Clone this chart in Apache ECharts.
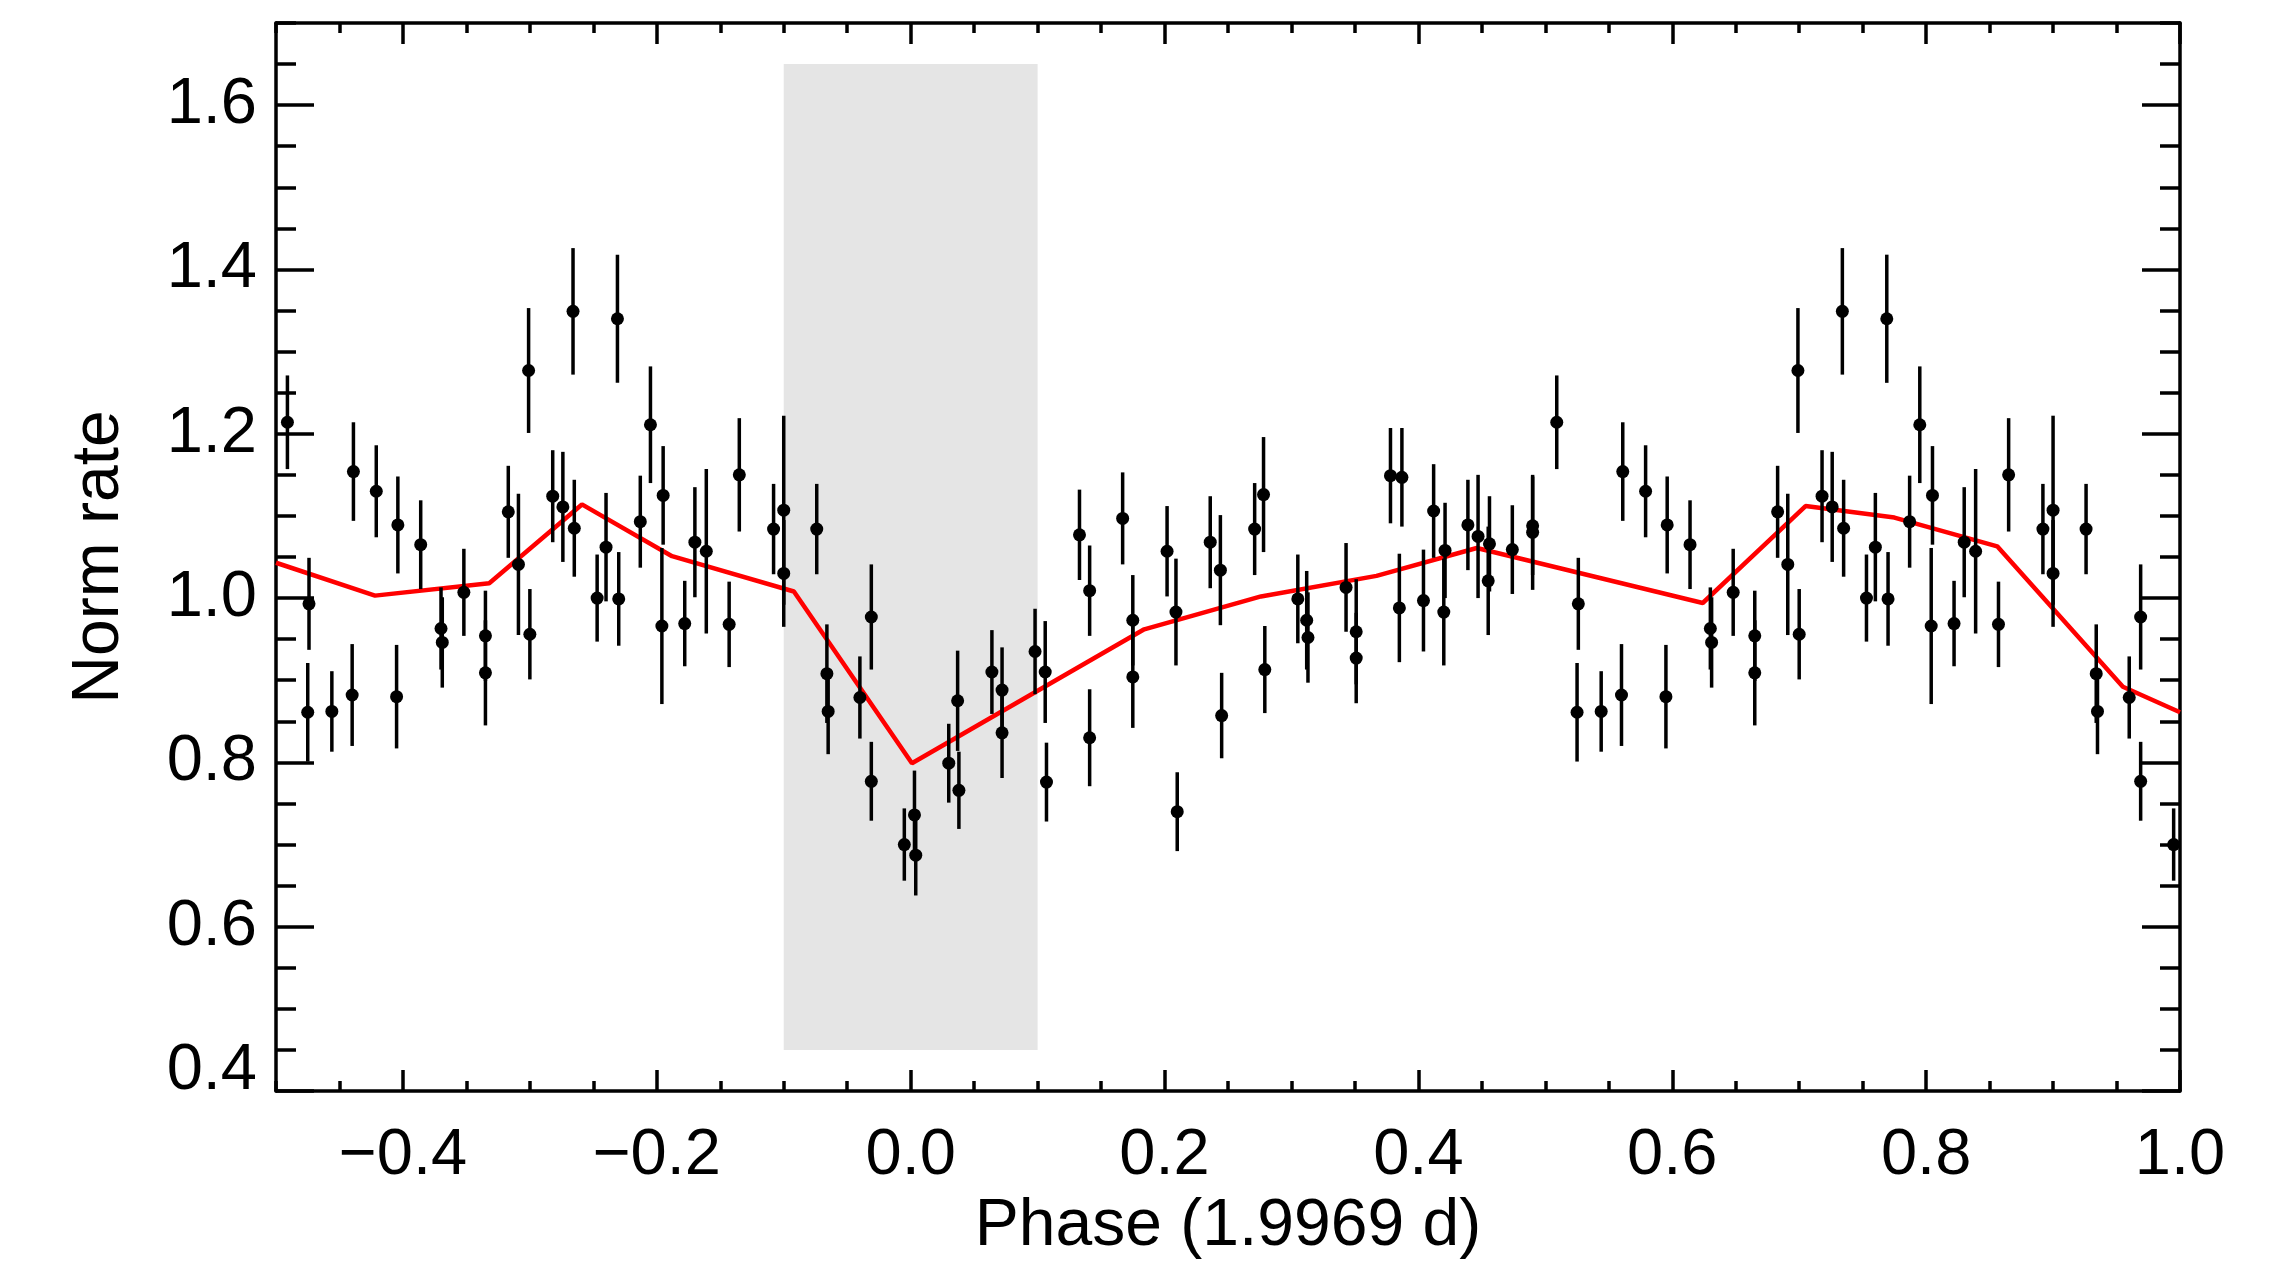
<!DOCTYPE html>
<html>
<head>
<meta charset="utf-8">
<title>Norm rate vs phase</title>
<script src="https://cdn.jsdelivr.net/npm/echarts@6/dist/echarts.min.js"></script>
<style>
  html, body { margin: 0; padding: 0; background: #fff; }
  #chart { width: 2292px; height: 1287px; }
</style>
</head>
<body>
<div id="chart"></div>
<script>
// folded light curve, one cycle (phase -0.5 .. 0.5); the -0.5..0 part is drawn again at +1
const phase = [
  -0.491, -0.474, -0.475, -0.456, -0.439, -0.440, -0.421, -0.404, -0.405, -0.386,
  -0.370, -0.369, -0.352, -0.335, -0.335, -0.317, -0.309, -0.301, -0.300, -0.282,
  -0.274, -0.266, -0.265, -0.247, -0.240, -0.231, -0.230, -0.213, -0.205, -0.195,
  -0.196, -0.178, -0.170, -0.161, -0.143, -0.135, -0.108, -0.100, -0.100, -0.074,
  -0.066, -0.065, -0.040, -0.031, -0.031, -0.005, 0.003, 0.004, 0.030, 0.037,
  0.038, 0.064, 0.072, 0.072, 0.098, 0.106, 0.107, 0.133, 0.141, 0.141,
  0.167, 0.175, 0.175, 0.202, 0.209, 0.210, 0.236, 0.244, 0.245, 0.271,
  0.278, 0.279, 0.305, 0.312, 0.313, 0.343, 0.351, 0.351, 0.378, 0.387,
  0.385, 0.404, 0.412, 0.421, 0.420, 0.439, 0.447, 0.456, 0.455, 0.474,
  0.490, 0.490
]
const rate = [
  1.214, 0.993, 0.861, 0.862, 1.154, 0.882, 1.130, 1.089, 0.880, 1.065,
  0.963, 0.946, 1.007, 0.954, 0.909, 1.105, 1.041, 1.277, 0.956, 1.124,
  1.111, 1.349, 1.085, 1.000, 1.062, 1.340, 0.999, 1.093, 1.211, 1.125,
  0.966, 0.969, 1.068, 1.057, 0.968, 1.150, 1.084, 1.107, 1.030, 1.084,
  0.908, 0.862, 0.879, 0.977, 0.777, 0.700, 0.736, 0.687, 0.799, 0.875,
  0.766, 0.910, 0.888, 0.836, 0.935, 0.910, 0.776, 1.077, 1.009, 0.830,
  1.097, 0.973, 0.904, 1.057, 0.983, 0.740, 1.068, 1.034, 0.857, 1.084,
  1.126, 0.913, 0.999, 0.973, 0.952, 1.013, 0.959, 0.927, 1.149, 1.147,
  0.988, 0.997, 1.106, 1.058, 0.983, 1.089, 1.075, 1.066, 1.021, 1.059,
  1.088, 1.080
]
const rateErr = [
  0.057, 0.056, 0.060, 0.049, 0.060, 0.062, 0.056, 0.059, 0.063, 0.054,
  0.050, 0.055, 0.053, 0.055, 0.064, 0.056, 0.086, 0.076, 0.055, 0.056,
  0.067, 0.077, 0.059, 0.053, 0.066, 0.078, 0.057, 0.056, 0.071, 0.060,
  0.095, 0.052, 0.067, 0.100, 0.052, 0.069, 0.055, 0.115, 0.065, 0.055,
  0.060, 0.052, 0.050, 0.064, 0.048, 0.044, 0.054, 0.049, 0.048, 0.061,
  0.047, 0.051, 0.052, 0.055, 0.052, 0.062, 0.048, 0.055, 0.055, 0.059,
  0.056, 0.055, 0.062, 0.055, 0.065, 0.048, 0.056, 0.067, 0.052, 0.056,
  0.070, 0.053, 0.054, 0.060, 0.055, 0.054, 0.064, 0.055, 0.058, 0.060,
  0.066, 0.062, 0.057, 0.058, 0.065, 0.055, 0.075, 0.058, 0.066, 0.054,
  0.060, 0.070
]

// red model curve
const modelPhase = [-0.5, -0.422, -0.332, -0.259, -0.188, -0.092, 0.001, 0.184, 0.276,
  0.367, 0.446, 0.624, 0.705, 0.775, 0.856, 0.955, 1.0]
const modelRate = [1.043, 1.003, 1.018, 1.114, 1.051, 1.008, 0.799, 0.962, 1.002,
  1.027, 1.061, 0.994, 1.112, 1.098, 1.063, 0.892, 0.861]

// shaded phase window
const boxPhase = [-0.1, 0.1]
const boxRate = [0.45, 1.65]

// axes
const xTicks = [-0.4, -0.2, 0.0, 0.2, 0.4, 0.6, 0.8, 1.0]
const yTicks = [0.4, 0.6, 0.8, 1.0, 1.2, 1.4, 1.6]
const xRange = [-0.5, 1.0]
const yRange = [0.4, 1.7]
const minorStep = 0.05

const FONT = '"Liberation Sans", Arial, Helvetica, sans-serif'

// build the points: one cycle plus the repeated half-cycle
let points = []
for (let i = 0; i < phase.length; i++) {
  points.push([phase[i], rate[i], rateErr[i]])
  if (phase[i] < 0) {
    points.push([+(phase[i] + 1).toFixed(3), rate[i], rateErr[i]])
  }
}
const modelData = modelPhase.map((p, i) => [p, modelRate[i]])

function fmtTick (v) {
  const s = Math.abs(v).toFixed(1)
  return v < -1e-9 ? '\u2212' + s : s
}
// lowest y label sits on top of the axis, like the original
function fmtYTick (v) {
  return Math.abs(v - yRange[0]) < 1e-9 ? '{low|' + fmtTick(v) + '}' : fmtTick(v)
}

function errorBar (params, api) {
  const x = api.value(0)
  const y = api.value(1)
  const e = api.value(2)
  const lo = api.coord([x, y - e])
  const hi = api.coord([x, y + e])
  return {
    type: 'line',
    shape: { x1: lo[0], y1: lo[1], x2: hi[0], y2: hi[1] },
    style: { stroke: '#000', lineWidth: 3.5 }
  }
}

// one axis builder so the four sides stay alike
function xAx (pos, major) {
  return {
    type: 'value',
    position: pos,
    min: xRange[0],
    max: xRange[1],
    interval: major ? undefined : minorStep,
    axisLine: { show: major, onZero: false, lineStyle: { color: '#000', width: 3.5 } },
    axisTick: major
      ? { show: true, inside: true, length: 21, customValues: xTicks, lineStyle: { color: '#000', width: 3.5 } }
      : { show: true, inside: true, length: 10, lineStyle: { color: '#000', width: 3.5 } },
    axisLabel: (major && pos === 'bottom')
      ? { show: true, customValues: xTicks, formatter: fmtTick, margin: 33, color: '#000', fontSize: 65, fontFamily: FONT }
      : { show: false },
    splitLine: { show: false }
  }
}
function yAx (pos, major) {
  return {
    type: 'value',
    position: pos,
    min: yRange[0],
    max: yRange[1],
    interval: major ? undefined : minorStep,
    axisLine: { show: major, onZero: false, lineStyle: { color: '#000', width: 3.5 } },
    axisTick: major
      ? { show: true, inside: true, length: 38, customValues: yTicks, lineStyle: { color: '#000', width: 3.5 } }
      : { show: true, inside: true, length: 20, lineStyle: { color: '#000', width: 3.5 } },
    axisLabel: (major && pos === 'left')
      ? {
          show: true, customValues: yTicks, formatter: fmtYTick, margin: 19,
          color: '#000', fontSize: 65, fontFamily: FONT,
          rich: { low: { fontSize: 65, fontFamily: FONT, color: '#000', padding: [0, 0, 40, 0] } }
        }
      : { show: false },
    splitLine: { show: false }
  }
}

let xAxes = [xAx('bottom', true), xAx('bottom', false), xAx('top', true), xAx('top', false)]
let yAxes = [yAx('left', true), yAx('left', false), yAx('right', true), yAx('right', false)]
Object.assign(xAxes[0], {
  name: 'Phase (1.9969 d)',
  nameLocation: 'middle',
  nameGap: 101,
  nameTextStyle: { color: '#000', fontSize: 66, fontFamily: FONT }
})
Object.assign(yAxes[0], {
  name: 'Norm rate',
  nameLocation: 'middle',
  nameGap: 143,
  nameRotate: 90,
  nameTextStyle: { color: '#000', fontSize: 66, fontFamily: FONT }
})

const chart = echarts.init(document.getElementById('chart'), null, { renderer: 'canvas' })
chart.setOption({
  animation: false,
  backgroundColor: '#fff',
  grid: { left: 276, right: 112, top: 23, bottom: 196, containLabel: false },
  xAxis: xAxes,
  yAxis: yAxes,
  series: [
    {
      // grey window, drawn first
      type: 'line',
      data: [],
      silent: true,
      markArea: {
        silent: true,
        itemStyle: { color: '#e5e5e5' },
        data: [[{ coord: [boxPhase[0], boxRate[0]] }, { coord: [boxPhase[1], boxRate[1]] }]]
      },
      z: 1
    },
    {
      type: 'line',
      data: modelData,
      showSymbol: false,
      symbol: 'none',
      lineStyle: { color: '#ff0000', width: 4.5 },
      z: 2
    },
    {
      type: 'custom',
      data: points,
      renderItem: errorBar,
      encode: { x: 0, y: 1 },
      z: 3
    },
    {
      type: 'scatter',
      data: points.map(p => [p[0], p[1]]),
      symbol: 'circle',
      symbolSize: 13,
      itemStyle: { color: '#000', opacity: 1 },
      z: 4
    }
  ]
})
</script>
</body>
</html>
